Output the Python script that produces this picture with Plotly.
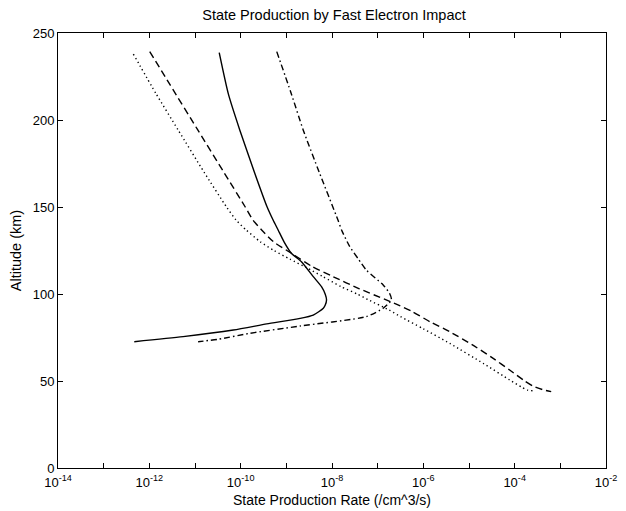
import plotly.graph_objects as go

# ---------------- data ----------------
x_tickvals = [1e-14, 1e-13, 1e-12, 1e-11, 1e-10, 1e-9, 1e-8, 1e-7, 1e-6, 1e-5, 1e-4, 1e-3, 1e-2]
x_ticktext = ["10<sup>-14</sup>", "", "10<sup>-12</sup>", "", "10<sup>-10</sup>", "",
              "10<sup>-8</sup>", "", "10<sup>-6</sup>", "", "10<sup>-4</sup>", "", "10<sup>-2</sup>"]
y_tickvals = [0, 50, 100, 150, 200, 250]

alt_solid = [238.7, 215, 194.3, 170, 150, 142.5, 136.8, 130, 123.4, 118.6, 110, 104.2, 100,
             96.6, 93.5, 91.8, 87.9, 86, 82.8, 79.3, 75.5, 72.6]
rate_solid = [3.39e-11, 5.37e-11, 9.55e-11, 2.00e-10, 3.80e-10, 5.13e-10, 6.61e-10, 8.91e-10,
              1.29e-9, 2.14e-9, 3.89e-9, 5.89e-9, 7.08e-9, 7.59e-9, 7.08e-9, 6.46e-9, 3.89e-9,
              2.00e-9, 3.72e-10, 6.92e-11, 5.50e-12, 4.68e-13]

alt_dashed = [239.3, 220, 194.3, 170, 150, 142.5, 136.8, 130, 123.4, 116, 110, 103, 97, 94, 90,
              84, 78.3, 70, 63, 56.3, 50, 47.1, 45, 43.9]
rate_dashed = [1.02e-12, 2.88e-12, 1.15e-11, 4.27e-11, 1.26e-10, 1.86e-10, 2.88e-10, 5.25e-10,
               1.29e-9, 3.55e-9, 1.05e-8, 3.98e-8, 1.41e-7, 2.63e-7, 5.62e-7, 1.41e-6, 3.80e-6,
               1.32e-5, 3.39e-5, 7.76e-5, 1.66e-4, 2.51e-4, 4.17e-4, 6.31e-4]

alt_dotted = [237.9, 215, 194.3, 170, 150, 142.5, 136.8, 130, 125, 120, 115, 110, 104.2, 100,
              96.6, 90.8, 87, 80, 71.6, 60, 50.6, 46.5, 44.8, 44.4]
rate_dotted = [4.47e-13, 1.41e-12, 4.27e-12, 1.58e-11, 4.90e-11, 7.94e-11, 1.32e-10, 2.69e-10,
               5.37e-10, 1.20e-9, 2.82e-9, 6.31e-9, 1.58e-8, 3.55e-8, 6.31e-8, 1.78e-7, 3.16e-7,
               1.0e-6, 3.80e-6, 2.09e-5, 7.76e-5, 1.41e-4, 1.91e-4, 2.51e-4]

alt_dashdot = [239.3, 215, 194.3, 170, 142.5, 136.8, 127.2, 120, 113.8, 105.2, 100.4, 96.6,
               91.8, 87, 81.6, 77.4, 74, 72.6]
rate_dashdot = [6.17e-10, 1.29e-9, 2.34e-9, 5.25e-9, 1.35e-8, 1.62e-8, 2.45e-8, 3.80e-8, 5.62e-8,
                1.32e-7, 1.82e-7, 2.00e-7, 1.32e-7, 5.62e-8, 2.00e-9, 1.58e-10, 3.24e-11, 1.17e-11]

title_text = "State Production by Fast Electron Impact"
x_title = "State Production Rate (/cm^3/s)"
y_title = "Altitude (km)"

# ---------------- figure ----------------
FONT = "Liberation Sans, Arial, Helvetica, sans-serif"
fig = go.Figure()

series = [
    (rate_solid, alt_solid, "solid"),
    (rate_dashed, alt_dashed, "7px,4px"),
    (rate_dotted, alt_dotted, "1.3px,3px"),
    (rate_dashdot, alt_dashdot, "6px,3px,1.5px,3px"),
]
for xs, ys, dash in series:
    fig.add_trace(go.Scatter(x=xs, y=ys, mode="lines", line_shape="spline",
                             line=dict(color="black", width=1.4, dash=dash, smoothing=0.6),
                             showlegend=False, hoverinfo="skip"))

axis_common = dict(showline=True, linecolor="black", linewidth=1, mirror="ticks",
                   ticks="inside", ticklen=5, tickcolor="black", tickwidth=1,
                   showgrid=False, zeroline=False, automargin=False,
                   ticklabeloverflow="allow",
                   tickfont=dict(family=FONT, size=13, color="black"))

fig.update_xaxes(type="log", range=[-14, -2], tickmode="array",
                 tickvals=x_tickvals, ticktext=x_ticktext, ticklabelstandoff=2,
                 title=dict(text=x_title, font=dict(family=FONT, size=14, color="black"),
                            standoff=6),
                 **axis_common)
fig.update_yaxes(range=[0, 250], tickmode="array", tickvals=y_tickvals,
                 title=dict(text=y_title, font=dict(family=FONT, size=14.5, color="black"),
                            standoff=7),
                 **axis_common)

fig.update_layout(
    width=626, height=511,
    margin=dict(l=58, r=20, t=33, b=43),
    paper_bgcolor="white", plot_bgcolor="white",
    hovermode=False,
    title=dict(text=title_text, font=dict(family=FONT, size=14.5, color="black"),
               x=334 / 626, xanchor="center", y=1 - 15 / 511, yanchor="middle", yref="container"),
)

fig.write_html("out.html",
               config={"displayModeBar": False, "staticPlot": True},
               post_script="document.body.style.margin='0px';document.body.style.padding='0px';"
                           "document.body.style.overflow='hidden';")
